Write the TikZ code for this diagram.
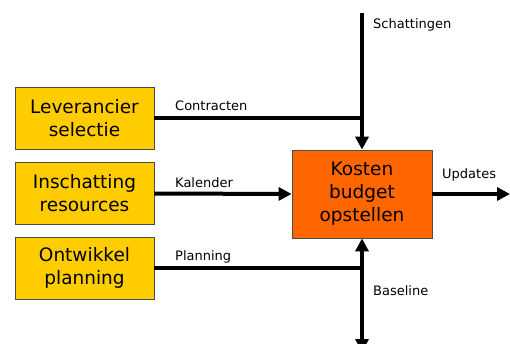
\documentclass[tikz,border=0pt]{standalone}
\usepackage{fontspec}
\setmainfont{DejaVu Sans}
\usetikzlibrary{arrows.meta}
\begin{document}
\begin{tikzpicture}[x=1pt,y=-1pt,
  procbox/.style={draw=black!70, line width=0.8pt, inner sep=0pt, align=center,
    font=\fontsize{18.5}{23}\selectfont},
  yel/.style={procbox, fill={rgb,255:red,255;green,204;blue,0}, minimum width=139pt, minimum height=62pt},
  org/.style={procbox, fill={rgb,255:red,255;green,102;blue,0}, minimum width=140pt, minimum height=88pt},
  flow/.style={line width=4pt},
  tip/.tip={Triangle[length=13pt,width=13pt]},
  arr/.style={flow, -tip},
  lbl/.style={font=\fontsize{13}{15}\selectfont, anchor=west, inner sep=0pt}]
\useasboundingbox (0,0) rectangle (510,344);
\node[yel] (lev) at (84.5,118) {Leverancier\\selectie};
\node[yel] (ins) at (84.5,193.5) {Inschatting\\resources};
\node[yel] (ont) at (84.5,268) {Ontwikkel\\planning};
\node[org] (kos) at (362,194) {Kosten\\budget\\opstellen};
\coordinate (top) at (362,13);
\coordinate (bot) at (362,352);
\coordinate (jA) at (362,118);
\coordinate (jB) at (362,268);
\coordinate (out) at (510,194);
\draw[flow] (lev.east) -- (jA);
\draw[arr] (top) -- (kos.north);
\draw[arr] (ins.east) -- (kos.west);
\draw[arr] (kos.east) -- (out);
\draw[flow] (ont.east) -- (jB);
\draw[flow, tip-tip] (kos.south) -- (bot);
\node[lbl] (l1) at (175,106) {Contracten};
\node[lbl] (l2) at (175,183) {Kalender};
\node[lbl] (l3) at (175,257) {Planning};
\node[lbl] (l4) at (373,25) {Schattingen};
\node[lbl] (l5) at (442,175) {Updates};
\node[lbl] (l6) at (373,291) {Baseline};
\end{tikzpicture}
\end{document}
